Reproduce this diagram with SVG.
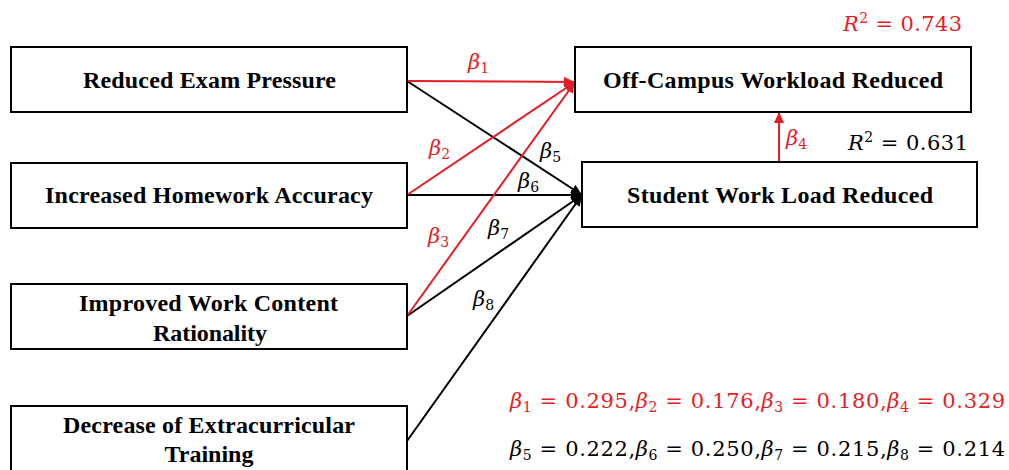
<svg xmlns="http://www.w3.org/2000/svg" width="1009" height="470" viewBox="0 0 1009 470">
<style>
.box{fill:#fff;stroke:#000;stroke-width:2}
.lbl{font-family:"Liberation Serif","Times New Roman",serif;font-weight:bold;font-size:24px;fill:#000}
.m{font-family:"DejaVu Serif","Liberation Serif",serif;font-size:21px}
.i{font-style:italic}
.red{fill:#e31e24}
.blk{fill:#000}
.lr{stroke:#e31e24;stroke-width:2;fill:none}
.lb{stroke:#000;stroke-width:2;fill:none}
</style>
<defs>
<marker id="ar" markerUnits="userSpaceOnUse" markerWidth="12" markerHeight="10" refX="11" refY="5" orient="auto">
<path d="M0,0 L11,5 L0,10 Z" fill="#e31e24"/>
</marker>
<marker id="ab" markerUnits="userSpaceOnUse" markerWidth="12" markerHeight="10" refX="11" refY="5" orient="auto">
<path d="M0,0 L11,5 L0,10 Z" fill="#000"/>
</marker>
</defs>
<rect width="1009" height="470" fill="#fff"/>
<g id="connectors">
<line class="lb" x1="407" y1="81" x2="582" y2="195" marker-end="url(#ab)"/>
<line class="lb" x1="407" y1="195" x2="582" y2="195" marker-end="url(#ab)"/>
<line class="lb" x1="407" y1="316" x2="582" y2="195" marker-end="url(#ab)"/>
<line class="lb" x1="407" y1="441" x2="582" y2="195" marker-end="url(#ab)"/>
<line class="lr" x1="407" y1="81" x2="575" y2="82" marker-end="url(#ar)"/>
<line class="lr" x1="407" y1="195" x2="575" y2="82" marker-end="url(#ar)"/>
<line class="lr" x1="407" y1="316" x2="575" y2="82" marker-end="url(#ar)"/>
<line class="lr" x1="779" y1="162" x2="779" y2="112" marker-end="url(#ar)"/>
</g>
<g id="node-reduced-exam">
<rect class="box" x="11" y="47" width="396" height="65"/>
<text class="lbl" x="83" y="88" textLength="253" lengthAdjust="spacing">Reduced Exam Pressure</text>
</g>
<g id="node-homework">
<rect class="box" x="11" y="163" width="396" height="65"/>
<text class="lbl" x="45" y="203" textLength="328" lengthAdjust="spacing">Increased Homework Accuracy</text>
</g>
<g id="node-content">
<rect class="box" x="11" y="284" width="396" height="65"/>
<text class="lbl" x="79" y="311" textLength="259" lengthAdjust="spacing">Improved Work Content</text>
<text class="lbl" x="153" y="341" textLength="114" lengthAdjust="spacing">Rationality</text>
</g>
<g id="node-extracurricular">
<rect class="box" x="11" y="406" width="396" height="80"/>
<text class="lbl" x="63" y="433" textLength="292" lengthAdjust="spacing">Decrease of Extracurricular</text>
<text class="lbl" x="209" y="462" text-anchor="middle">Training</text>
</g>
<g id="node-offcampus">
<rect class="box" x="575" y="47" width="396" height="65"/>
<text class="lbl" x="603" y="88" textLength="340" lengthAdjust="spacing">Off-Campus Workload Reduced</text>
</g>
<g id="node-student">
<rect class="box" x="582" y="162" width="395" height="65"/>
<text class="lbl" x="627" y="203" textLength="306" lengthAdjust="spacing">Student Work Load Reduced</text>
</g>
<g id="labels">
<text class="m red" x="468" y="69"><tspan class="i">β</tspan><tspan font-size="14" dy="4">1</tspan></text>
<text class="m red" x="429" y="155"><tspan class="i">β</tspan><tspan font-size="14" dy="4">2</tspan></text>
<text class="m red" x="428" y="243"><tspan class="i">β</tspan><tspan font-size="14" dy="4">3</tspan></text>
<text class="m red" x="786" y="145"><tspan class="i">β</tspan><tspan font-size="14" dy="4">4</tspan></text>
<text class="m blk" x="540" y="158"><tspan class="i">β</tspan><tspan font-size="14" dy="4">5</tspan></text>
<text class="m blk" x="518" y="188"><tspan class="i">β</tspan><tspan font-size="14" dy="4">6</tspan></text>
<text class="m blk" x="488" y="235"><tspan class="i">β</tspan><tspan font-size="14" dy="4">7</tspan></text>
<text class="m blk" x="473" y="306"><tspan class="i">β</tspan><tspan font-size="14" dy="4">8</tspan></text>
<text class="m red" x="843" y="31" textLength="119" lengthAdjust="spacing"><tspan class="i">R</tspan><tspan font-size="14" dy="-8">2</tspan><tspan dy="8"> = 0.743</tspan></text>
<text class="m blk" x="848" y="150" textLength="120" lengthAdjust="spacing"><tspan class="i">R</tspan><tspan font-size="14" dy="-8">2</tspan><tspan dy="8"> = 0.631</tspan></text>
<text class="m red" x="510" y="408" textLength="495" lengthAdjust="spacing"><tspan class="i">β</tspan><tspan font-size="14" dy="4">1</tspan><tspan dy="-4"> = 0.295,</tspan><tspan class="i">β</tspan><tspan font-size="14" dy="4">2</tspan><tspan dy="-4"> = 0.176,</tspan><tspan class="i">β</tspan><tspan font-size="14" dy="4">3</tspan><tspan dy="-4"> = 0.180,</tspan><tspan class="i">β</tspan><tspan font-size="14" dy="4">4</tspan><tspan dy="-4"> = 0.329</tspan></text>
<text class="m blk" x="510" y="456" textLength="495" lengthAdjust="spacing"><tspan class="i">β</tspan><tspan font-size="14" dy="4">5</tspan><tspan dy="-4"> = 0.222,</tspan><tspan class="i">β</tspan><tspan font-size="14" dy="4">6</tspan><tspan dy="-4"> = 0.250,</tspan><tspan class="i">β</tspan><tspan font-size="14" dy="4">7</tspan><tspan dy="-4"> = 0.215,</tspan><tspan class="i">β</tspan><tspan font-size="14" dy="4">8</tspan><tspan dy="-4"> = 0.214</tspan></text>
</g>
</svg>
